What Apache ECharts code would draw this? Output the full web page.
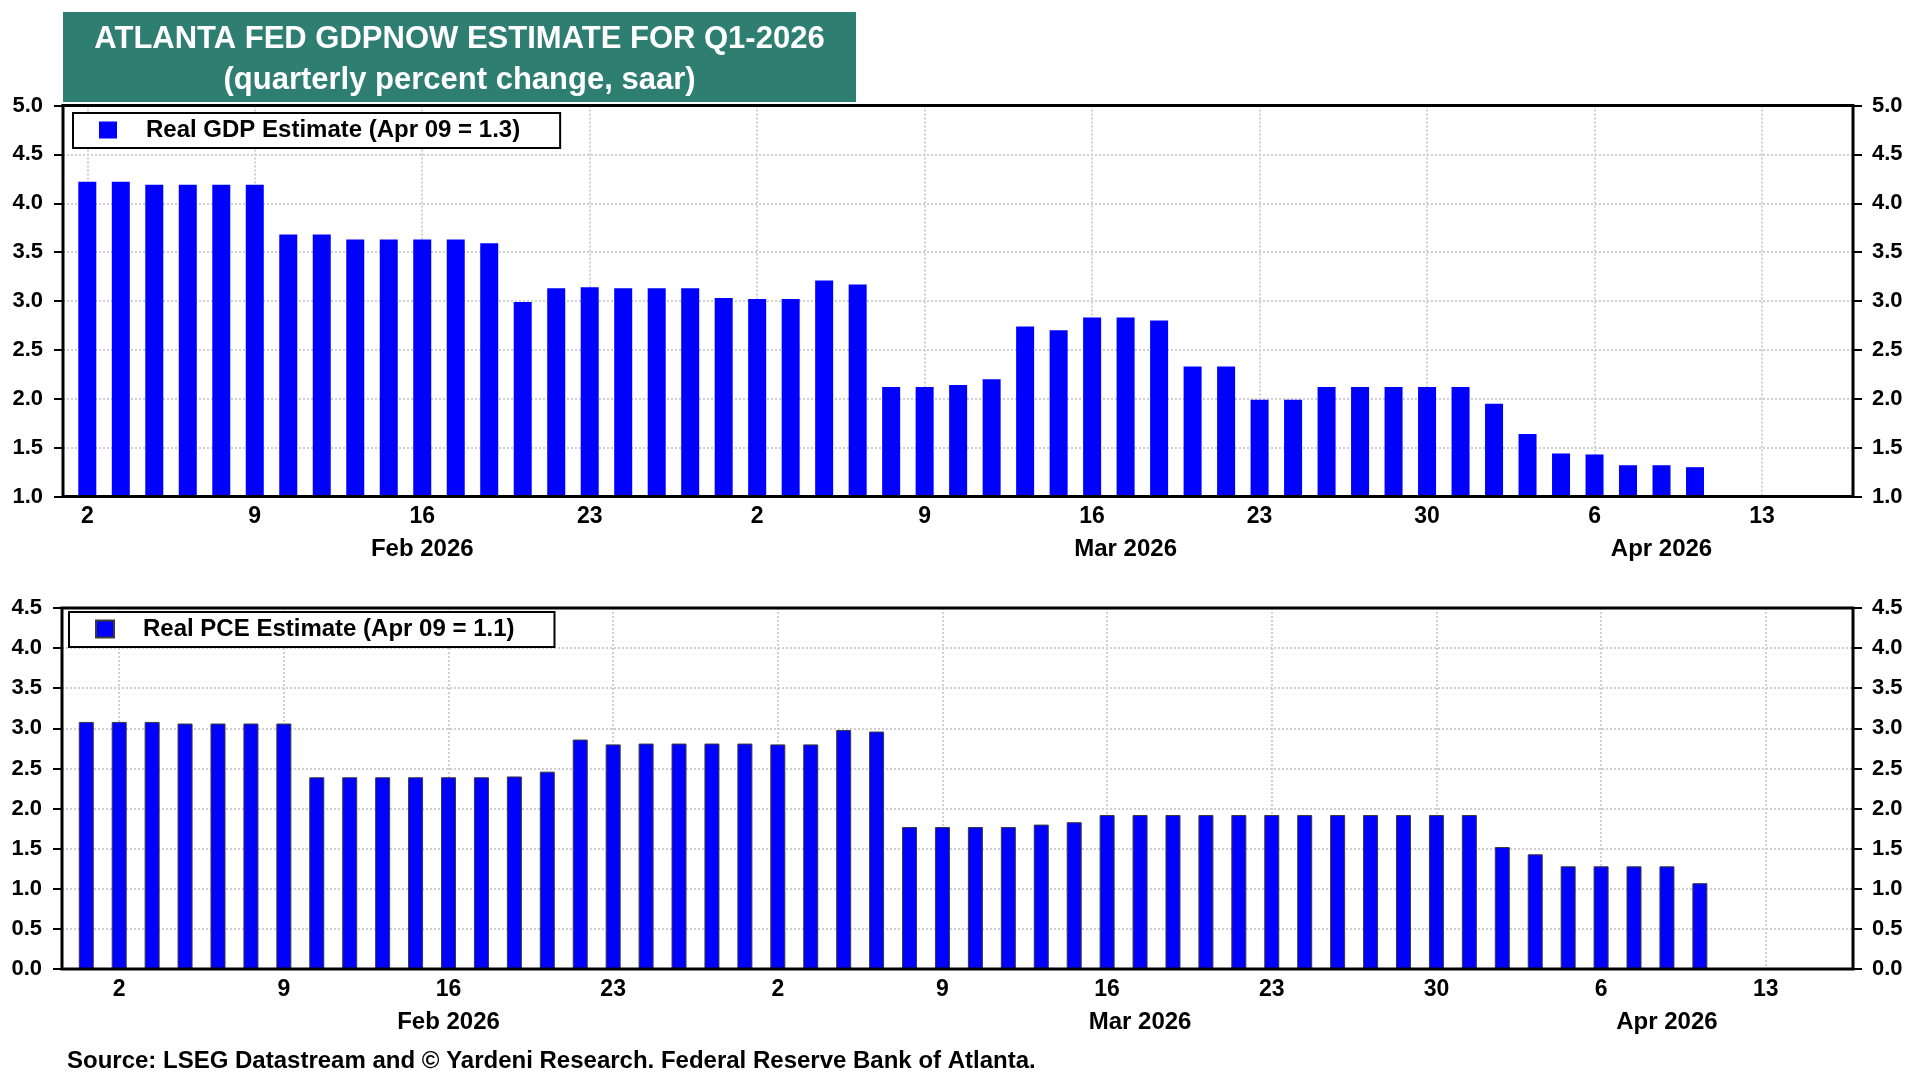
<!DOCTYPE html>
<html>
<head>
<meta charset="utf-8">
<script src="https://cdn.jsdelivr.net/npm/echarts@6/dist/echarts.min.js"></script>
<style>
html,body{margin:0;padding:0;background:#fff;}
#chart{width:1914px;height:1077px;}
</style>
</head>
<body>
<div id="chart"></div>
<script>
// ---- data ----
// business-day positions: 0 = Mon Feb 2 2026, -1 = Fri Jan 30 2026
const dayTickIdx = [0, 5, 10, 15, 20, 25, 30, 35, 40, 45, 50];
const dayTickLabels = ['2', '9', '16', '23', '2', '9', '16', '23', '30', '6', '13'];
const monthIdx = [10, 31, 47];
const monthLabels = ['Feb 2026', 'Mar 2026', 'Apr 2026'];

const gdpName = 'Real GDP Estimate (Apr 09 = 1.3)';
const gdpFirstIdx = 0; // Feb 2
const gdpValues = [
  4.22, 4.22, 4.19, 4.19, 4.19,
  4.19, 3.68, 3.68, 3.63, 3.63,
  3.63, 3.63, 3.59, 2.99, 3.13,
  3.14, 3.13, 3.13, 3.13, 3.03,
  3.02, 3.02, 3.21, 3.17, 2.12,
  2.12, 2.14, 2.20, 2.74, 2.70,
  2.83, 2.83, 2.80, 2.33, 2.33,
  1.99, 1.99, 2.12, 2.12, 2.12,
  2.12, 2.12, 1.95, 1.64, 1.44,
  1.43, 1.32, 1.32, 1.30
];

const pceName = 'Real PCE Estimate (Apr 09 = 1.1)';
const pceFirstIdx = -1; // Jan 30
const pceValues = [
  3.08,
  3.08, 3.08, 3.06, 3.06, 3.06,
  3.06, 2.39, 2.39, 2.39, 2.39,
  2.39, 2.39, 2.40, 2.46, 2.86,
  2.80, 2.81, 2.81, 2.81, 2.81,
  2.80, 2.80, 2.98, 2.96, 1.77,
  1.77, 1.77, 1.77, 1.80, 1.83,
  1.92, 1.92, 1.92, 1.92, 1.92,
  1.92, 1.92, 1.92, 1.92, 1.92,
  1.92, 1.92, 1.52, 1.43, 1.28,
  1.28, 1.28, 1.28, 1.07
];

const titleLine1 = 'ATLANTA FED GDPNOW ESTIMATE FOR Q1-2026';
const titleLine2 = '(quarterly percent change, saar)';
const sourceText = 'Source: LSEG Datastream and \u00A9 Yardeni Research. Federal Reserve Bank of Atlanta.';

// ---- chart ----
const FONT = '"Liberation Sans", Arial, Helvetica, sans-serif';
const gridLine = { show: true, lineStyle: { color: '#cfcfcf', width: 2, type: [2, 2] } };
const chart = echarts.init(document.getElementById('chart'), null, { renderer: 'canvas' });

function dayAxis(gridIndex, min, max) {
  return {
    type: 'value', gridIndex, min, max, position: 'bottom',
    axisLine: { show: false, onZero: false },
    axisTick: { show: false, customValues: dayTickIdx },
    axisLabel: {
      customValues: dayTickIdx, margin: 9,
      color: '#000', fontWeight: 'bold', fontSize: 23, fontFamily: FONT,
      formatter: v => dayTickLabels[dayTickIdx.indexOf(Math.round(v))] || ''
    },
    splitLine: gridLine
  };
}
function monthAxis(gridIndex, min, max) {
  return {
    type: 'value', gridIndex, min, max, position: 'bottom',
    axisLine: { show: false, onZero: false },
    axisTick: { show: false, customValues: monthIdx },
    axisLabel: {
      customValues: monthIdx, margin: 41,
      color: '#000', fontWeight: 'bold', fontSize: 24, fontFamily: FONT,
      formatter: v => monthLabels[monthIdx.indexOf(Math.round(v))] || ''
    },
    splitLine: { show: false }
  };
}
function valAxis(gridIndex, min, max, pos) {
  return {
    type: 'value', gridIndex, min, max, interval: 0.5, position: pos,
    axisLine: { show: false, onZero: false },
    axisTick: { show: true, inside: false, length: 9, lineStyle: { color: '#000', width: 2 } },
    axisLabel: {
      margin: pos === 'left' ? 20 : 19,
      color: '#000', fontWeight: 'bold', fontSize: 22, fontFamily: FONT,
      formatter: v => v.toFixed(1)
    },
    splitLine: pos === 'left' ? gridLine : { show: false }
  };
}
function legendCfg(name, top, left) {
  return {
    data: [name], left, top, orient: 'horizontal',
    selectedMode: false,
    borderColor: '#000', borderWidth: 2, backgroundColor: '#fff',
    padding: [5, 40, 6, 26],
    itemWidth: 18, itemHeight: 17, icon: 'rect',
    textStyle: { color: '#000', fontWeight: 'bold', fontSize: 24, fontFamily: FONT, padding: [0, 0, 0, 24] }
  };
}

const option = {
  animation: false,
  backgroundColor: '#fff',
  title: [{
    text: sourceText, left: 67, top: 1049, padding: 0,
    textStyle: { color: '#000', fontWeight: 'bold', fontSize: 24, fontFamily: FONT }
  }],
  graphic: [{
    type: 'group', left: 63, top: 12,
    children: [
      { type: 'rect', shape: { x: 0, y: 0, width: 793, height: 90 }, style: { fill: '#2f7e72' } },
      { type: 'text', x: 396.5, y: 27, style: { text: titleLine1, fill: '#fff', font: 'bold 31px ' + FONT, textAlign: 'center', textVerticalAlign: 'middle' } },
      { type: 'text', x: 396.5, y: 68, style: { text: titleLine2, fill: '#fff', font: 'bold 31px ' + FONT, textAlign: 'center', textVerticalAlign: 'middle' } }
    ]
  }],
  legend: [legendCfg(gdpName, 113, 73), legendCfg(pceName, 612, 69)],
  grid: [
    { left: 63, right: 61, top: 105.5, height: 391, show: true, borderColor: '#000', borderWidth: 3, z: 10, containLabel: false },
    { left: 62, right: 61, top: 608, height: 361, show: true, borderColor: '#000', borderWidth: 3, z: 10, containLabel: false }
  ],
  xAxis: [
    dayAxis(0, -0.7255, 52.717),
    monthAxis(0, -0.7255, 52.717),
    dayAxis(1, -1.737, 52.65),
    monthAxis(1, -1.737, 52.65)
  ],
  yAxis: [
    valAxis(0, 1, 5, 'left'),
    valAxis(0, 1, 5, 'right'),
    valAxis(1, 0, 4.5, 'left'),
    valAxis(1, 0, 4.5, 'right')
  ],
  series: [
    {
      name: gdpName, type: 'bar', xAxisIndex: 0, yAxisIndex: 0,
      barWidth: 18, itemStyle: { color: '#0000ff', borderWidth: 0 },
      data: gdpValues.map((v, i) => [gdpFirstIdx + i, v])
    },
    {
      name: pceName, type: 'bar', xAxisIndex: 2, yAxisIndex: 2,
      barWidth: 15, itemStyle: { color: '#0000ff', borderColor: '#3a3a3a', borderWidth: 1 },
      data: pceValues.map((v, i) => [pceFirstIdx + i, v])
    }
  ]
};
chart.setOption(option);
</script>
</body>
</html>
